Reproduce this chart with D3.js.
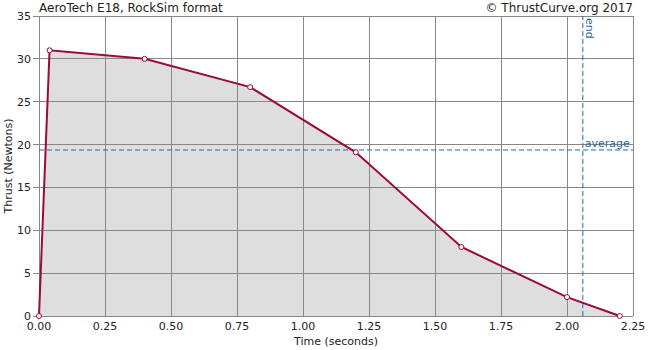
<!DOCTYPE html>
<html>
<head>
<meta charset="utf-8">
<script src="https://cdn.jsdelivr.net/npm/d3@7"></script>
<style>
  body { margin: 0; background: #fff; }
  text { font-family: "DejaVu Sans", sans-serif; }
</style>
</head>
<body>
<svg id="chart" width="650" height="350"></svg>
<script>
// thrust curve samples (seconds, newtons)
const times = [0, 0.04, 0.4, 0.8, 1.2, 1.6, 2.0, 2.2];
const thrust = [0, 31.0, 30.0, 26.7, 19.1, 8.05, 2.2, 0];
const xTicks = [0, 0.25, 0.5, 0.75, 1.0, 1.25, 1.5, 1.75, 2.0, 2.25];
const yTicks = [0, 5, 10, 15, 20, 25, 30, 35];
const averageThrust = 19.37;
const burnEnd = 2.06;

const svg = d3.select("#chart");
const margin = {left: 39, right: 17, top: 16, bottom: 34};
const width = 650, height = 350;

const x = d3.scaleLinear().domain([0, 2.25]).range([margin.left, width - margin.right]);
const y = d3.scaleLinear().domain([0, 35]).range([height - margin.bottom, margin.top]);

const pts = times.map((t, i) => ({t: t, f: thrust[i]}));
const blue = "#1f6bab", red = "#9a0a3a";

// filled area under curve
svg.append("path")
    .datum(pts)
    .attr("d", d3.area().x(d => x(d.t)).y0(y(0)).y1(d => y(d.f)))
    .style("fill", "#dedede");

// grid
svg.append("g")
    .selectAll("line")
    .data(xTicks)
    .enter().append("line")
    .attr("x1", d => x(d)).attr("x2", d => x(d))
    .attr("y1", y(0)).attr("y2", y(35))
    .style("stroke", "#888").style("stroke-width", 1).attr("shape-rendering", "crispEdges");

svg.append("g")
    .selectAll("line")
    .data(yTicks)
    .enter().append("line")
    .attr("x1", x(0) - 6).attr("x2", x(2.25))
    .attr("y1", d => y(d)).attr("y2", d => y(d))
    .style("stroke", "#888").style("stroke-width", 1).attr("shape-rendering", "crispEdges");

// tick labels
svg.append("g")
    .selectAll("text")
    .data(xTicks)
    .enter().append("text")
    .attr("x", d => x(d)).attr("y", y(0) + 14)
    .attr("text-anchor", "middle")
    .style("font-size", "11px").style("fill", "#222")
    .text(d => d.toFixed(2));

svg.append("g")
    .selectAll("text")
    .data(yTicks)
    .enter().append("text")
    .attr("x", x(0) - 8).attr("y", d => y(d) + 4)
    .attr("text-anchor", "end")
    .style("font-size", "11px").style("fill", "#222")
    .text(d => d);

// average + end markers
svg.append("line")
    .attr("x1", x(0)).attr("x2", x(2.25))
    .attr("y1", y(averageThrust)).attr("y2", y(averageThrust))
    .style("stroke", blue).style("stroke-dasharray", "5,3");
svg.append("line")
    .attr("x1", x(burnEnd)).attr("x2", x(burnEnd))
    .attr("y1", y(0)).attr("y2", y(35))
    .style("stroke", blue).style("stroke-dasharray", "5,3");

svg.append("text")
    .attr("x", x(burnEnd) + 2).attr("y", y(averageThrust) - 3)
    .style("font-size", "11px").style("fill", blue)
    .text("average");
svg.append("text")
    .attr("transform", `translate(${x(burnEnd) + 3},${y(35) + 2}) rotate(90)`)
    .style("font-size", "11px").style("fill", blue)
    .text("end");

// curve
svg.append("path")
    .datum(pts)
    .attr("d", d3.line().x(d => x(d.t)).y(d => y(d.f)))
    .style("fill", "none").style("stroke", red).style("stroke-width", 2);

svg.append("g")
    .selectAll("circle")
    .data(pts)
    .enter().append("circle")
    .attr("cx", d => x(d.t)).attr("cy", d => y(d.f))
    .attr("r", 2.5)
    .style("fill", "#fff").style("stroke", red).style("stroke-width", 1);

// titles
svg.append("text")
    .attr("x", x(0)).attr("y", 12)
    .style("font-size", "12px").style("fill", "#222")
    .text("AeroTech E18, RockSim format");
svg.append("text")
    .attr("x", x(2.25)).attr("y", 12)
    .attr("text-anchor", "end")
    .style("font-size", "12px").style("fill", "#222")
    .text("© ThrustCurve.org 2017");
svg.append("text")
    .attr("x", (x(0) + x(2.25)) / 2).attr("y", 345)
    .attr("text-anchor", "middle")
    .style("font-size", "11px").style("fill", "#222")
    .text("Time (seconds)");
svg.append("text")
    .attr("transform", `translate(12,${(y(0) + y(35)) / 2}) rotate(-90)`)
    .attr("text-anchor", "middle")
    .style("font-size", "11px").style("fill", "#222")
    .text("Thrust (Newtons)");
</script>
</body>
</html>
